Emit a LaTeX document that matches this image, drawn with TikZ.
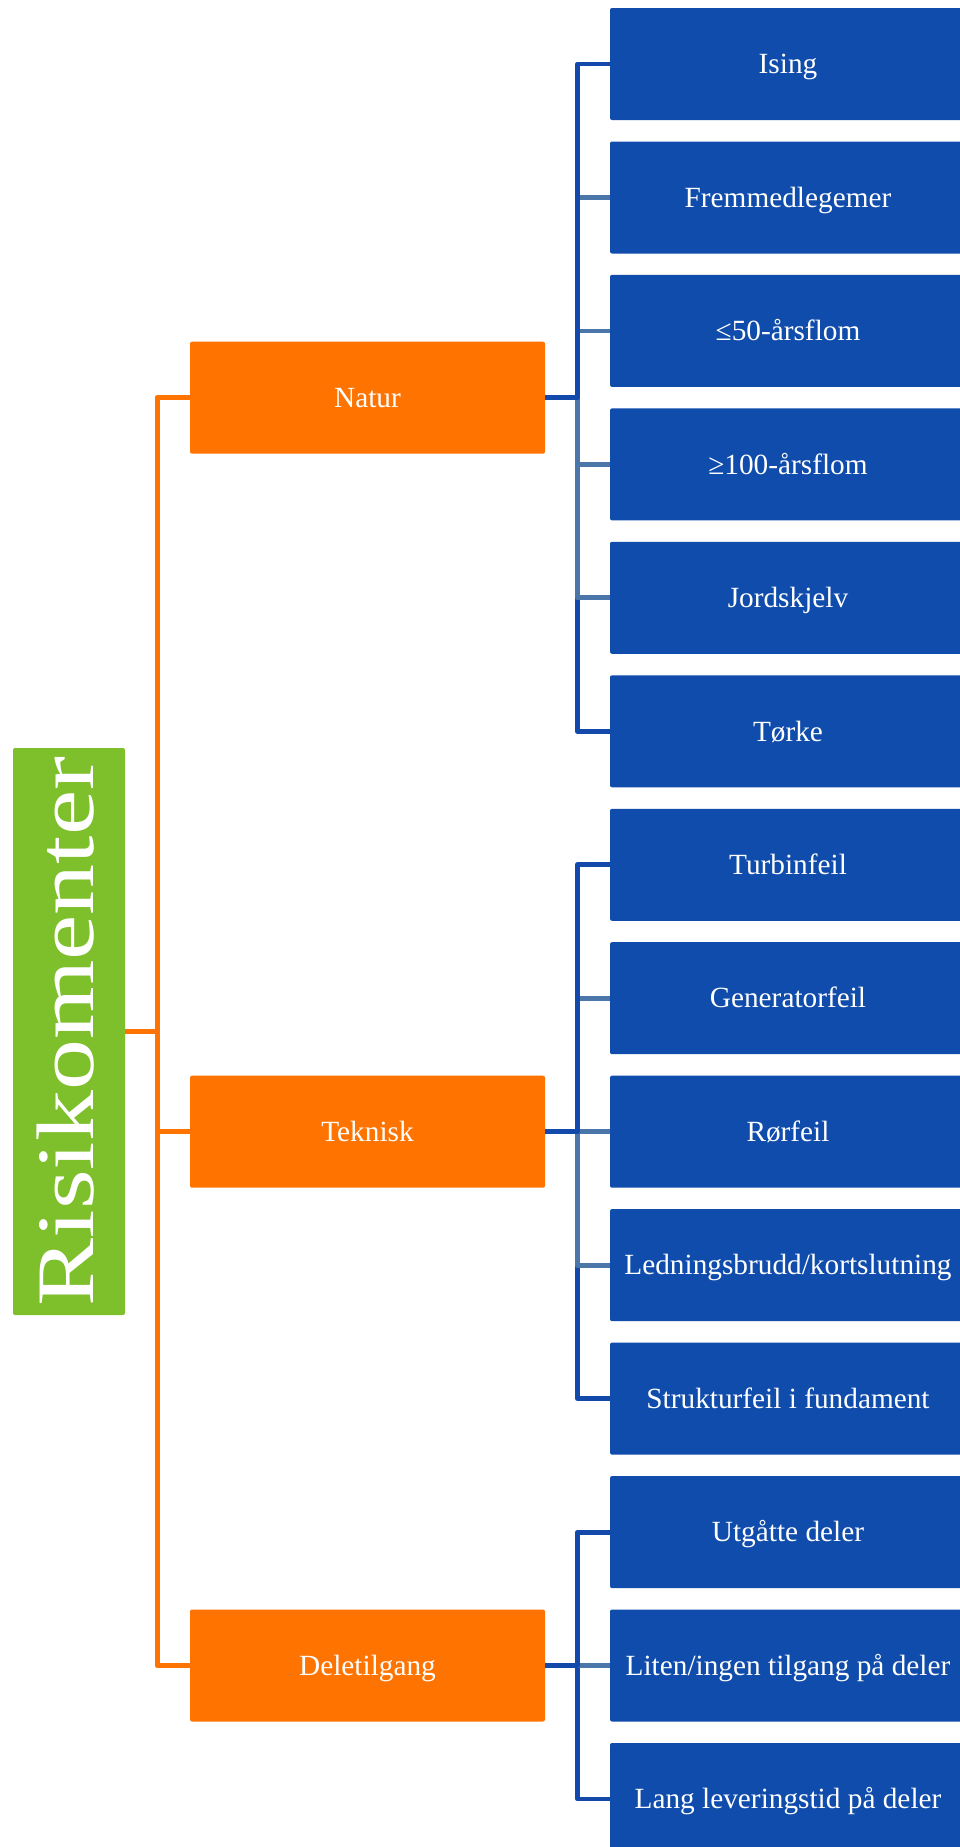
\documentclass[tikz,border=0pt]{standalone}
\usepackage{fontspec}
\setmainfont{Liberation Serif}
\definecolor{leafblue}{HTML}{104CAB}
\definecolor{darkline}{HTML}{1249AB}
\definecolor{lightline}{HTML}{4A76AA}
\definecolor{branchorange}{HTML}{FF7400}
\definecolor{rootgreen}{HTML}{7DC02C}
\begin{document}
\begin{tikzpicture}[x=1pt,y=-1pt,
  boxtext/.style={text=white, inner sep=0pt, rounded corners=2pt,
    font=\fontsize{29.3}{35}\selectfont, text height=19.4pt, text depth=0pt},
  leaf/.style={boxtext, fill=leafblue, minimum width=356pt, minimum height=112pt},
  branch/.style={boxtext, fill=branchorange, minimum width=355pt, minimum height=112pt},
  rootbox/.style={fill=rootgreen, text=white, inner sep=0pt, rounded corners=2pt,
    rotate=90, minimum width=567pt, minimum height=112pt,
    font=\fontsize{81.6}{90}\selectfont, text height=54pt, text depth=6pt},
  oline/.style={draw=branchorange, line width=5pt, line join=round},
  dline/.style={draw=darkline, line width=4.8pt, line join=round},
  lline/.style={draw=lightline, line width=4.8pt, line join=round},
]
\useasboundingbox (0,0) rectangle (960,1847);
\clip (0,0) rectangle (960,1847);
\fill[white] (0,0) rectangle (960,1847);

% trunk positions
\coordinate (otrunk) at (157,0);
\coordinate (bus) at (577.5,0);

% root
\node[rootbox] (root) at (69,1031.5) {\scalebox{1.25}[1]{Risikomenter}};

% branches
\node[branch] (natur) at (367.5,397.7) {Natur};
\node[branch] (teknisk) at (367.5,1131.7) {Teknisk};
\node[branch] (deletilgang) at (367.5,1665.5) {Deletilgang};

% leaves
\node[leaf] (ising) at (788,64) {Ising};
\node[leaf] (fremmed) at (788,197.5) {Fremmedlegemer};
\node[leaf] (flomA) at (788,330.9) {≤50-årsflom};
\node[leaf] (flomB) at (788,464.4) {≥100-årsflom};
\node[leaf] (jord) at (788,597.8) {Jordskjelv};
\node[leaf] (torke) at (788,731.3) {Tørke};
\node[leaf] (turbin) at (788,864.8) {Turbinfeil};
\node[leaf] (generator) at (788,998.2) {Generatorfeil};
\node[leaf] (ror) at (788,1131.7) {Rørfeil};
\node[leaf] (ledning) at (788,1265.1) {Ledningsbrudd/kortslutning};
\node[leaf] (struktur) at (788,1398.6) {Strukturfeil i fundament};
\node[leaf] (utgatt) at (788,1532.1) {Utgåtte deler};
\node[leaf] (liten) at (788,1665.5) {Liten/ingen tilgang på deler};
\node[leaf] (lang) at (788,1799) {Lang leveringstid på deler};

% root to branches
\draw[oline] (root.south) -- (root.south -| otrunk);
\draw[oline] (natur.west) -- (natur.west -| otrunk) -- (deletilgang.west -| otrunk) -- (deletilgang.west);
\draw[oline] (teknisk.west) -- (teknisk.west -| otrunk);

% Natur
\draw[dline] (natur.east) -- (natur.east -| bus) -- (torke.west -| bus) -- (torke.west);
\draw[lline] (fremmed.west -| bus) -- (fremmed.west);
\draw[lline] (flomA.west -| bus) -- (flomA.west);
\draw[lline] (natur.east -| bus) -- (jord.west -| bus) -- (jord.west);
\draw[lline] (flomB.west -| bus) -- (flomB.west);
\draw[dline] (natur.east) -- (natur.east -| bus) -- (ising.west -| bus) -- (ising.west);

% Teknisk
\draw[dline] (teknisk.east) -- (teknisk.east -| bus) -- (struktur.west -| bus) -- (struktur.west);
\draw[lline] (generator.west -| bus) -- (generator.west);
\draw[lline] (teknisk.east -| bus) -- (ledning.west -| bus) -- (ledning.west);
\draw[lline] (ror.west -| bus) -- (ror.west);
\draw[dline] (teknisk.east) -- (teknisk.east -| bus) -- (turbin.west -| bus) -- (turbin.west);

% Deletilgang
\draw[dline] (deletilgang.east) -- (deletilgang.east -| bus) -- (lang.west -| bus) -- (lang.west);
\draw[lline] (liten.west -| bus) -- (liten.west);
\draw[dline] (deletilgang.east) -- (deletilgang.east -| bus) -- (utgatt.west -| bus) -- (utgatt.west);
\end{tikzpicture}
\end{document}
